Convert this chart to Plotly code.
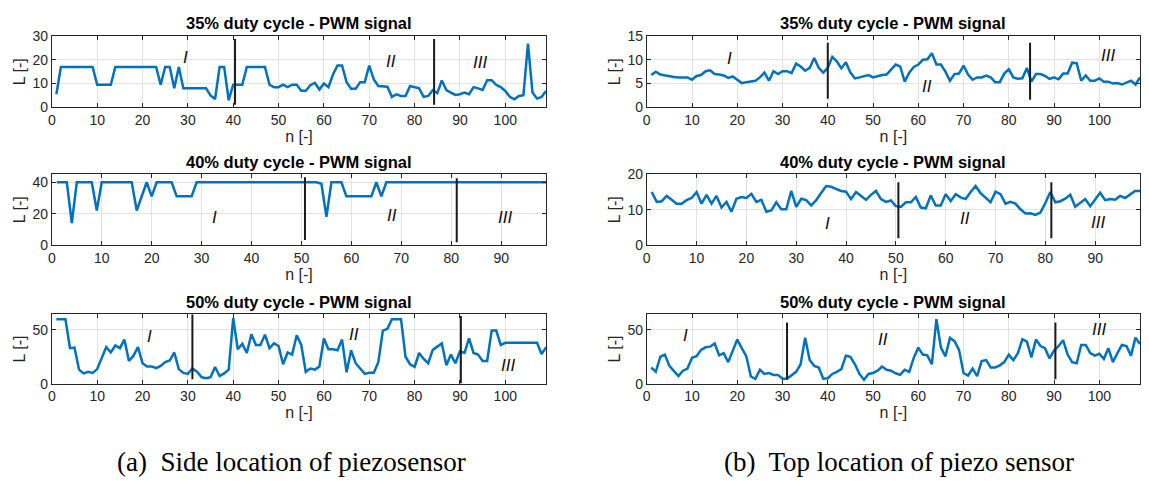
import plotly.graph_objects as go

# ---- Side location of piezosensor -------------------------------------
side_35 = [5.5, 17, 17, 17, 17, 17, 17, 17, 17, 9.5, 9.5, 9.5, 9.5, 17, 17, 17, 17, 17, 17, 17,
           17, 17, 17, 9.5, 17, 17, 8, 17, 8, 8, 8, 8, 8, 8, 5, 3.5, 17, 17, 3, 9.5,
           9.5, 9.5, 17, 17, 17, 17, 17, 9.5, 8.5, 8.5, 9.5, 8.5, 9.5, 9.5, 7, 7, 9.3, 10.3, 7.5, 10,
           8.5, 13.8, 17.6, 17.6, 10.6, 7.8, 7.8, 10.6, 10.6, 17.6, 11.7, 9, 9, 8.7, 4.4, 5.5, 4.8, 4.8, 9, 8.5,
           8, 4.4, 4.8, 7.2, 6, 11.3, 7.3, 6.2, 5.2, 5.5, 6.2, 5.5, 8.5, 8, 7.3, 11.4, 11.4, 9.4, 8.5, 6.9,
           4.4, 3.4, 4.8, 5.1, 26.8, 6.2, 3.7, 4.4, 6.9]

side_40 = [40, 40, 40, 14, 40, 40, 40, 40, 22, 40, 40, 40, 40, 40, 40, 40, 22, 31, 40, 31,
           40, 40, 40, 40, 31, 31, 31, 31, 40, 40, 40, 40, 40, 40, 40, 40, 40, 40, 40, 40,
           40, 40, 40, 40, 40, 40, 40, 40, 40, 40, 40, 40, 40, 39, 18, 40, 40, 40, 31, 31,
           31, 31, 31, 31, 40, 31, 40, 40, 40, 40, 40, 40, 40, 40, 40, 40, 40, 40, 40, 40,
           40, 40, 40, 40, 40, 40, 40, 40, 40, 40, 40, 40, 40, 40, 40, 40, 40, 40, 40]

side_50 = [60, 60, 60, 33, 33.5, 13, 9.5, 11, 10, 13.5, 23, 34, 29, 35.5, 33, 41, 21, 26, 34, 19,
           16, 16, 14.5, 16.5, 20, 21.5, 29, 13.5, 10, 9, 14, 11, 6, 5, 6, 15.5, 7, 9.5, 13, 61,
           32, 37, 28.5, 46, 36, 36, 45.5, 33, 37.5, 35, 18, 29, 27, 45, 36, 11, 14, 13, 16, 42,
           32, 32, 31, 41, 10.5, 31, 19, 14, 9, 10, 10, 20, 49.4, 51, 60, 60, 60, 25, 18, 15.5,
           28.5, 23, 19, 31.4, 34.4, 37.4, 17, 27, 19, 30, 28.5, 42, 28.5, 27, 21, 21, 49.4, 49.4, 36, 38,
           38, 38, 38, 38, 38, 38, 38, 27.5, 34]

# ---- Top location of piezo sensor -------------------------------------
top_35 = [6.8, 7.5, 6.9, 6.7, 6.5, 6.4, 6.3, 6.3, 6.3, 5.8, 6.6, 6.8, 7.6, 7.8, 7.0, 6.9, 6.7, 6.2, 6.5, 5.8,
          5.1, 5.3, 5.5, 5.6, 6.3, 7.3, 5.6, 7.6, 7.0, 7.6, 7.6, 7.2, 9.2, 8.6, 7.7, 8.3, 10.4, 8.3, 7.3, 8.3,
          10.6, 9.7, 8.2, 9.5, 7.3, 6.1, 6.3, 6.6, 6.8, 6.3, 6.6, 6.8, 6.9, 8.0, 9.0, 8.6, 5.4, 7.3, 8.5, 9.0,
          10.0, 10.1, 11.4, 9.0, 9.0, 7.5, 5.6, 7.0, 7.1, 8.8, 6.9, 5.8, 6.3, 6.3, 6.7, 6.3, 5.3, 5.3, 7.1, 8.0,
          6.3, 6.0, 6.1, 8.3, 5.4, 7.0, 7.0, 6.6, 6.0, 6.3, 5.9, 7.1, 7.1, 9.4, 9.3, 5.6, 6.7, 5.6, 5.6, 6.1,
          5.4, 5.4, 5.0, 5.1, 4.8, 5.2, 5.6, 4.8, 6.3]

top_40 = [15.0, 12.2, 12.4, 13.9, 12.8, 11.7, 11.7, 12.7, 13.3, 15.0, 11.7, 14.2, 11.7, 13.9, 10.6, 12.2, 9.4, 13.1, 13.6, 13.3,
          14.5, 12.2, 12.8, 9.4, 9.8, 12.1, 10.1, 10.1, 15.3, 10.8, 13.1, 12.7, 11.2, 12.7, 14.7, 16.7, 16.5, 15.9, 15.3, 15.1,
          13.0, 15.0, 14.0, 12.8, 14.2, 15.3, 13.0, 12.2, 12.6, 11.0, 10.8, 12.1, 12.1, 13.6, 10.6, 10.4, 14.0, 11.2, 11.2, 14.4,
          12.4, 14.4, 13.5, 13.0, 15.0, 16.7, 14.7, 13.3, 12.1, 15.1, 14.4, 11.7, 12.2, 11.7, 10.1, 8.9, 9.0, 8.5, 9.2, 11.9,
          15.0, 12.1, 12.4, 13.1, 14.2, 10.8, 11.9, 13.0, 11.0, 12.8, 14.8, 12.7, 13.0, 12.8, 13.9, 13.3, 14.2, 15.3, 15.3]

top_50 = [15, 11, 25, 27, 16.5, 11.4, 7, 12, 14, 24, 25.5, 31.4, 33.8, 34.4, 37.4, 26.3, 28.4, 20, 31.4, 41,
          33, 25.4, 6.6, 4.5, 12.9, 9, 9.9, 8.1, 8.1, 4.5, 4.5, 7.5, 11, 18, 42.8, 21.9, 16.5, 15, 4.5, 5,
          9, 11, 13.5, 26, 25, 18, 9, 3.6, 9, 9.9, 12, 15.9, 12.9, 12, 9.6, 8.1, 12.9, 11, 24, 33.5,
          27, 26.3, 18, 60, 33.5, 25.4, 42.5, 39.5, 31.4, 9.9, 7.5, 14, 6.9, 21, 21.9, 15, 15, 17, 20, 27,
          21.9, 28.4, 41.3, 39, 24.5, 41, 35, 33, 23.4, 30.8, 35, 40.4, 27, 20, 18.9, 36, 36, 28.4, 26, 27.8,
          23, 33, 20, 28.4, 36, 35, 26, 42.8, 36.8]

titles = ["35% duty cycle - PWM signal", "40% duty cycle - PWM signal", "50% duty cycle - PWM signal"]
captions = ["(a)  Side location of piezosensor", "(b)  Top location of piezo sensor"]
region_labels = ["I", "II", "III"]

# boundaries between regions I / II / III (sample index)
side_bounds = [[40.4, 84.3], [50.7, 81.1], [31.0, 90.2]]
top_bounds = [[40.0, 84.7], [50.5, 81.2], [31.0, 90.3]]

# where the region names sit: (n, L) for I, II, III
side_label_pos = [[(29.4, 21), (74.8, 19.5), (94.5, 19)],
                  [(32.6, 17.5), (68.2, 18.5), (90.7, 17.5)],
                  [(21.5, 44), (66.7, 46), (100.7, 17)]]
top_label_pos = [[(18.2, 10.3), (62.0, 4.3), (101.9, 11.0)],
                 [(36.2, 6.2), (63.8, 7.5), (90.5, 6.4)],
                 [(8.6, 45), (52.2, 41), (99.9, 50)]]

side_series = [side_35, side_40, side_50]
top_series = [top_35, top_40, top_50]
side_yrange = [30, 45, 64.5]
top_yrange = [15, 20, 64.5]
side_yticks = [[0, 10, 20, 30], [0, 20, 40], [0, 50]]
top_yticks = [[0, 5, 10, 15], [0, 10, 20], [0, 50]]
# vertical extent of the boundary markers, as (bottom, top) in L units
side_vspan = [[(1.1, 28.8), (1.1, 28.8)], [(3.1, 43.2), (1.8, 42.5)], [(4, 64.5), (0, 63)]]
top_vspan = [[(1.8, 13.6), (1.6, 13.6)], [(1.9, 17.8), (1.9, 17.8)], [(4, 57), (4, 57)]]

W, H = 1149, 489
col_px = [(48, 544), (645, 1140)]
row_px = [(29, 102.7), (172, 245), (316.7, 388.3)]
caption_cx = [289, 898]

LINE = "#0072BD"
AX = "#262626"
GRID = "#e3e3e3"
FONT = "Liberation Sans, Arial, Helvetica, sans-serif"

fig = go.Figure()
layout = dict(
    width=W, height=H,
    margin=dict(l=0, r=0, t=0, b=0),
    paper_bgcolor="white", plot_bgcolor="white",
    showlegend=False,
    font=dict(family=FONT, color=AX, size=12),
    shapes=[], annotations=[],
)

k = 0
for c, (series, yr, yt, bounds, vspan, lpos) in enumerate([
        (side_series, side_yrange, side_yticks, side_bounds, side_vspan, side_label_pos),
        (top_series, top_yrange, top_yticks, top_bounds, top_vspan, top_label_pos)]):
    for r in range(3):
        k += 1
        xa = "xaxis" if k == 1 else f"xaxis{k}"
        ya = "yaxis" if k == 1 else f"yaxis{k}"
        xr = "x" if k == 1 else f"x{k}"
        yrf = "y" if k == 1 else f"y{k}"
        data = series[r]
        n = list(range(1, len(data) + 1))
        fig.add_trace(go.Scatter(x=n, y=data, mode="lines",
                                 line=dict(color=LINE, width=2.5),
                                 xaxis=xr, yaxis=yrf, hoverinfo="skip"))
        x0p, x1p = col_px[c]
        y0p, y1p = row_px[r]
        xmax = len(data)
        xt = list(range(0, xmax, 10))
        layout[xa] = dict(
            domain=[x0p / W, x1p / W], anchor=yrf, range=[0, xmax],
            tickvals=xt, ticks="inside", ticklen=4, tickcolor=AX,
            showline=True, linecolor=AX, linewidth=1, mirror="ticks",
            showgrid=True, gridcolor=GRID, gridwidth=1, zeroline=False,
            tickfont=dict(size=14, color=AX),
            title=dict(text="n [-]", font=dict(size=16, color=AX), standoff=3),
        )
        layout[ya] = dict(
            domain=[1 - y1p / H, 1 - y0p / H], anchor=xr, range=[0, yr[r]],
            tickvals=yt[r], ticks="inside", ticklen=4, tickcolor=AX,
            showline=True, linecolor=AX, linewidth=1, mirror="ticks",
            showgrid=True, gridcolor=GRID, gridwidth=1, zeroline=False,
            tickfont=dict(size=14, color=AX),
            title=dict(text="L [-]", font=dict(size=16, color=AX), standoff=2),
        )
        # region boundaries
        for b, (lo, hi) in zip(bounds[r], vspan[r]):
            layout["shapes"].append(dict(type="line", xref=xr, yref=yrf,
                                         x0=b, x1=b, y0=lo, y1=hi,
                                         line=dict(color="#1a1a1a", width=2)))
        # region names
        for name, (lx, ly) in zip(region_labels, lpos[r]):
            layout["annotations"].append(dict(
                x=lx, y=ly, xref=xr, yref=yrf, text=f"<i>{name}</i>",
                showarrow=False, font=dict(size=17, color="#111111", family=FONT)))
        # subplot title
        layout["annotations"].append(dict(
            x=(x0p + x1p) / 2 / W, y=1 - (y0p - 13) / H, xref="paper", yref="paper",
            xanchor="center", yanchor="middle",
            text=f"<b>{titles[r]}</b>", showarrow=False,
            font=dict(size=16.5, color="#000000", family=FONT)))

# captions
for c, txt in enumerate(captions):
    layout["annotations"].append(dict(
        x=caption_cx[c] / W, y=1 - 469 / H, xref="paper", yref="paper",
        xanchor="center", yanchor="middle",
        text=txt, showarrow=False,
        font=dict(size=27, color="#000000", family="Liberation Serif, serif")))

fig.update_layout(**layout)
fig.write_html("out.html")
